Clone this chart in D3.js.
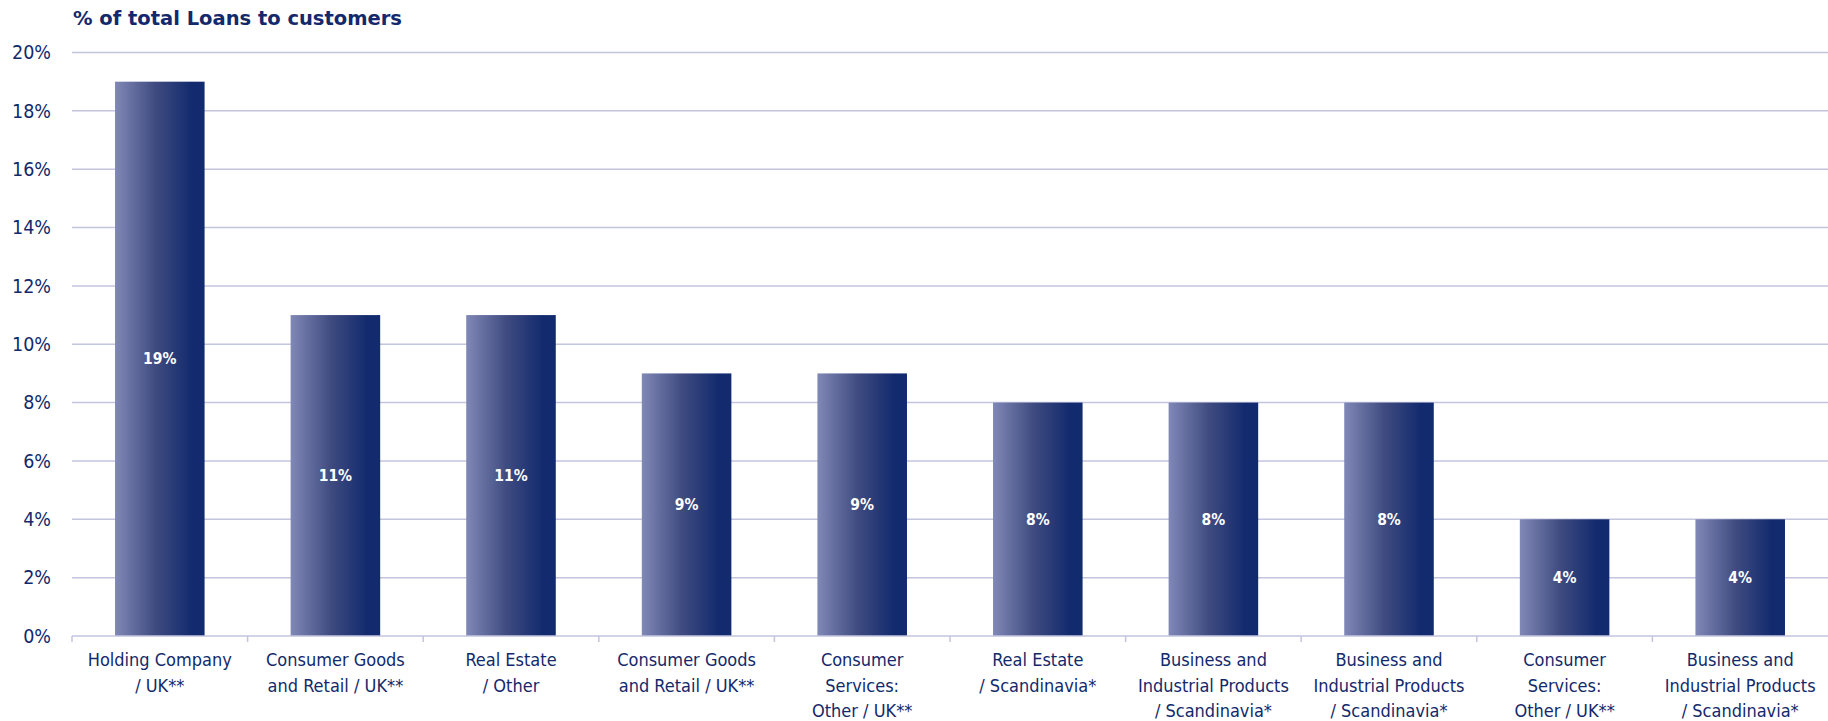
<!DOCTYPE html>
<html>
<head>
<meta charset="utf-8">
<script src="https://cdn.jsdelivr.net/npm/d3@7"></script>
<style>
  body { margin: 0; background: #fff; }
  .chart text { font-family: "Liberation Sans Narrow", "DejaVu Sans Condensed", "Roboto", sans-serif; }
</style>
</head>
<body>
<div class="chart"></div>
<script>
var categories = [
  ["Holding Company", "/ UK**"],
  ["Consumer Goods", "and Retail / UK**"],
  ["Real Estate", "/ Other"],
  ["Consumer Goods", "and Retail / UK**"],
  ["Consumer", "Services:", "Other / UK**"],
  ["Real Estate", "/ Scandinavia*"],
  ["Business and", "Industrial Products", "/ Scandinavia*"],
  ["Business and", "Industrial Products", "/ Scandinavia*"],
  ["Consumer", "Services:", "Other / UK**"],
  ["Business and", "Industrial Products", "/ Scandinavia*"]
];
var values = [19, 11, 11, 9, 9, 8, 8, 8, 4, 4];
var yTicks = [0, 2, 4, 6, 8, 10, 12, 14, 16, 18, 20];
var title = "% of total Loans to customers";

var w = 1828, h = 721;
var m = { top: 52.5, right: 0, bottom: 85, left: 72 };
var navy = "#13296b";

var svg = d3.select(".chart").append("svg")
  .attr("width", w)
  .attr("height", h);

var grad = svg.append("defs").append("linearGradient")
  .attr("id", "barGrad")
  .attr("x1", "0%").attr("x2", "100%").attr("y1", "0%").attr("y2", "0%");
grad.append("stop").attr("offset", "0%").attr("stop-color", "#8088b6");
grad.append("stop").attr("offset", "45%").attr("stop-color", "#3f4b80");
grad.append("stop").attr("offset", "85%").attr("stop-color", "#132b6e");
grad.append("stop").attr("offset", "100%").attr("stop-color", "#112b6e");

var idx = values.map((d, i) => i);
var x = d3.scaleBand()
  .domain(idx)
  .range([m.left, w - m.right])
  .paddingInner(0.49)
  .paddingOuter(0.245);
var xb = d3.scaleBand().domain(idx).range([m.left, w - m.right]);

var y = d3.scaleLinear()
  .domain([0, 20])
  .range([h - m.bottom, m.top]);

// title
svg.append("text")
  .attr("x", 73)
  .attr("y", 25)
  .attr("fill", navy)
  .attr("font-size", 19.5)
  .attr("font-weight", "bold")
  .style("font-family", "'DejaVu Sans', sans-serif")
  .text(title);

// gridlines
svg.append("g")
  .selectAll("line")
  .data(yTicks.filter(d => d > 0))
  .enter()
  .append("line")
  .attr("x1", m.left)
  .attr("x2", w - m.right)
  .attr("y1", d => y(d))
  .attr("y2", d => y(d))
  .attr("stroke", "#c3c4de")
  .attr("stroke-width", 1.5);

// y labels
svg.append("g")
  .selectAll("text")
  .data(yTicks)
  .enter()
  .append("text")
  .attr("x", 51)
  .attr("y", d => y(d))
  .attr("dy", "0.35em")
  .attr("text-anchor", "end")
  .attr("fill", navy)
  .attr("font-size", 19.5)
  .text(d => d + "%");

// bars
svg.append("g")
  .selectAll("rect")
  .data(values)
  .enter()
  .append("rect")
  .attr("x", (d, i) => x(i))
  .attr("width", x.bandwidth())
  .attr("y", d => y(d))
  .attr("height", d => y(0) - y(d))
  .attr("fill", "url(#barGrad)");

// bar value labels
svg.append("g")
  .selectAll("text")
  .data(values)
  .enter()
  .append("text")
  .attr("x", (d, i) => x(i) + x.bandwidth() / 2)
  .attr("y", d => (y(d) + y(0)) / 2)
  .attr("dy", "0.35em")
  .attr("text-anchor", "middle")
  .attr("fill", "#fff")
  .attr("font-size", 15.5)
  .attr("font-weight", "bold")
  .text(d => d + "%");

// x axis line and ticks
var axis = svg.append("g");
axis.append("line")
  .attr("x1", m.left)
  .attr("x2", w - m.right)
  .attr("y1", y(0))
  .attr("y2", y(0))
  .attr("stroke", "#c3c4de")
  .attr("stroke-width", 1.5);
axis.selectAll("line.tick")
  .data(idx)
  .enter()
  .append("line")
  .attr("class", "tick")
  .attr("x1", d => xb(d))
  .attr("x2", d => xb(d))
  .attr("y1", y(0))
  .attr("y2", y(0) + 6)
  .attr("stroke", "#c3c4de")
  .attr("stroke-width", 1.5);

// category labels
var cl = svg.append("g")
  .selectAll("text")
  .data(categories)
  .enter()
  .append("text")
  .attr("text-anchor", "middle")
  .attr("fill", navy)
  .attr("font-size", 18)
  .attr("font-weight", 500);
cl.selectAll("tspan")
  .data((d, i) => d.map(t => ({ t: t, i: i })))
  .enter()
  .append("tspan")
  .attr("x", d => x(d.i) + x.bandwidth() / 2)
  .attr("y", (d, j) => 666 + j * 25.5)
  .text(d => d.t);
</script>
</body>
</html>
